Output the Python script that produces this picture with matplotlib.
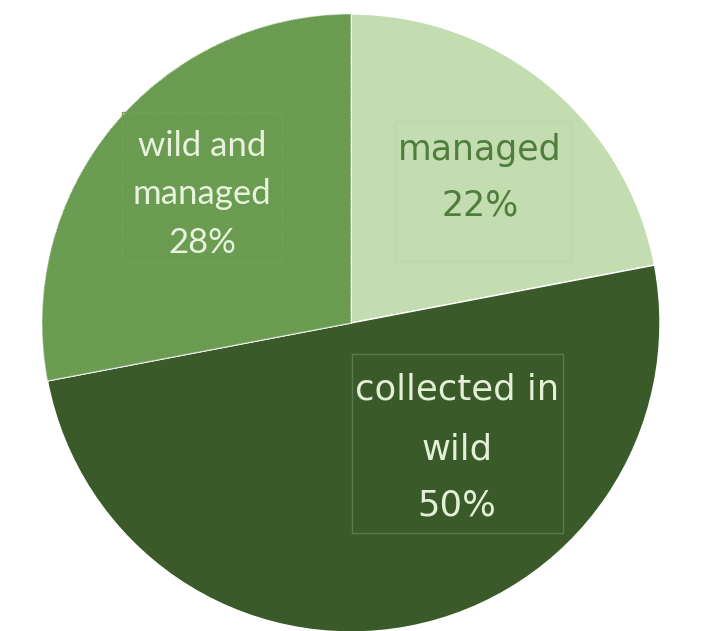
import matplotlib
matplotlib.use("Agg")
import matplotlib.pyplot as plt
import matplotlib.patches as mpatches

# ---- data ----
categories = ["managed", "collected in wild", "wild and managed"]
values = [22, 50, 28]
label_lines = [["managed", "22%"], ["collected in", "wild", "50%"], ["wild and", "managed", "28%"]]

colors = ["#c4ddb0", "#3a5a29", "#72a358"]
text_colors = ["#4f7d3c", "#e2f0d6", "#e8f3de"]

W, H = 701, 631
fig = plt.figure(figsize=(W / 100, H / 100), dpi=100)
ax = fig.add_axes([0, 0, 1, 1])

cx, cy_top, r = 351, 323, 309
center = (cx, H - cy_top)

wedges, _ = ax.pie(values, colors=colors, startangle=90, counterclock=False,
                   center=center, radius=r,
                   wedgeprops=dict(edgecolor="white", linewidth=1.0))

plt.rcParams["hatch.linewidth"] = 0.7
w = wedges[2]
hatch = mpatches.Wedge(center, r, w.theta1, w.theta2, facecolor="none",
                       edgecolor="#65974d", linewidth=0, hatch="\\" * 14)
ax.add_patch(hatch)

ax.set_xlim(0, W)
ax.set_ylim(0, H)
ax.set_aspect("equal")
ax.axis("off")

def Y(y):
    return H - y

# label positions (pixel coords from top)
label_pos = [
    (480, [150, 206]),
    (457, [389, 449, 506]),
    (202, [146, 194, 243]),
]
fonts = ["DejaVu Sans", "DejaVu Sans", "Lato"]
sizes = [25, 25.5, 25]

for i, (x, ys) in enumerate(label_pos):
    for line, y in zip(label_lines[i], ys):
        ax.text(x, Y(y), line, ha="center", va="center", color=text_colors[i],
                fontsize=sizes[i], family=fonts[i])

# faint boxes around labels
boxes = [
    ((395, 121), 176, 140, "#bdd7a9"),
    ((352, 354), 211, 179, "#5b7a50"),
    ((122, 112), 160, 150, "#6fa055"),
]
for (x0, y0), bw, bh, ec in boxes:
    ax.add_patch(mpatches.Rectangle((x0, Y(y0 + bh)), bw, bh, facecolor="none",
                                    edgecolor=ec, linewidth=1.0))

fig.savefig("out.png", dpi=100)
